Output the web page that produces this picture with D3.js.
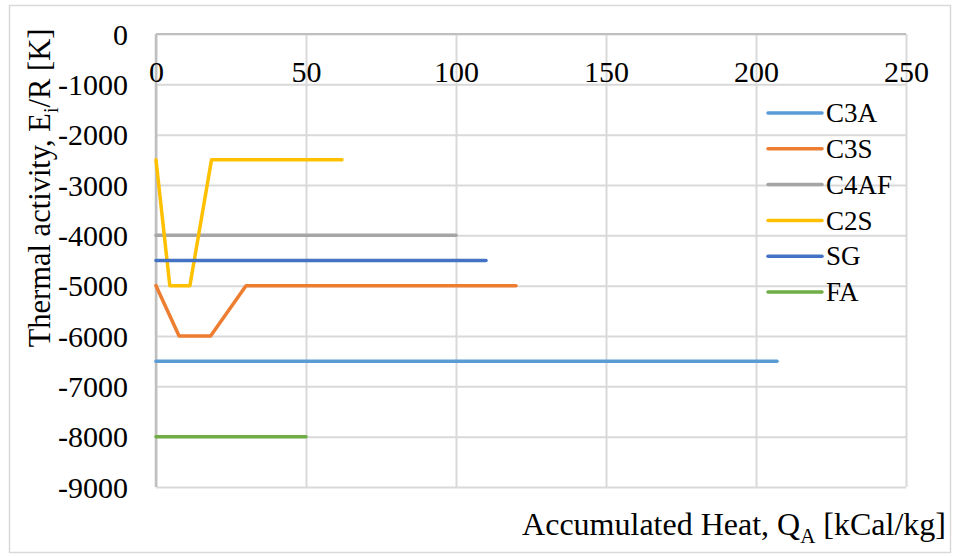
<!DOCTYPE html>
<meta charset="utf-8">
<style>
body { margin: 0; background: #fff; }
svg { display: block; }
</style>
<body>
<div id="chart1"><svg></svg></div>
<script src="https://cdn.jsdelivr.net/npm/d3@7"></script>
<script>

var seriesNames = ["C3A", "C3S", "C4AF", "C2S", "SG", "FA"];
var seriesColors = ["#5B9BD5", "#ED7D31", "#A5A5A5", "#FFC000", "#4472C4", "#70AD47"];

// accumulated heat (x) and thermal activity (y) per series
var c3aX = [0, 207],   c3aY = [-6500, -6500];
var c3sX = [0, 7.7, 18.2, 30, 120], c3sY = [-5000, -6000, -6000, -5000, -5000];
var c4afX = [0, 100],  c4afY = [-4000, -4000];
var c2sX = [0, 4.6, 11.3, 18.5, 62], c2sY = [-2500, -5000, -5000, -2500, -2500];
var sgX = [0, 110],    sgY = [-4500, -4500];
var faX = [0, 50],     faY = [-8000, -8000];

var xTicks = [0, 50, 100, 150, 200, 250];
var yTicks = [0, -1000, -2000, -3000, -4000, -5000, -6000, -7000, -8000, -9000];

var seriesX = [c3aX, c3sX, c4afX, c2sX, sgX, faX];
var seriesY = [c3aY, c3sY, c4afY, c2sY, sgY, faY];
var data = seriesNames.map(function(name, i) {
  return {
    key: name,
    color: seriesColors[i],
    values: seriesX[i].map(function(x, j) { return { x: x, y: seriesY[i][j] }; })
  };
});

var FONT = "Liberation Serif";
var width = 955, height = 556;
var plot = { left: 156, right: 906, top: 34, bottom: 487 };

var svg = d3.select('#chart1 svg')
    .attr("width", width)
    .attr("height", height)
    .attr("font-family", FONT);

// chart border
svg.append("rect")
    .attr("x", 9.5).attr("y", 5.5)
    .attr("width", 941).attr("height", 547)
    .attr("fill", "#fff")
    .attr("stroke", "#d9d9d9")
    .attr("stroke-width", 1.5);

var x = d3.scaleLinear().domain([0, 250]).range([plot.left, plot.right]);
var y = d3.scaleLinear().domain([-9000, 0]).range([plot.bottom, plot.top]);

// gridlines
svg.append("g")
    .attr("transform", "translate(0," + plot.bottom + ")")
    .call(d3.axisTop(x).tickValues(xTicks).tickSize(plot.bottom - plot.top).tickFormat(""))
    .call(function(g) {
      g.select(".domain").remove();
      g.selectAll("line").attr("stroke", "#d9d9d9").attr("stroke-width", 2);
    });

svg.append("g")
    .attr("transform", "translate(" + plot.right + ",0)")
    .call(d3.axisLeft(y).tickValues(yTicks).tickSize(plot.right - plot.left).tickFormat(""))
    .call(function(g) {
      g.select(".domain").remove();
      g.selectAll("line").attr("stroke", "#d9d9d9").attr("stroke-width", 2);
    });

// axis lines (x axis crosses at y = 0, at the top)
svg.append("line")
    .attr("x1", x(0)).attr("x2", x(250))
    .attr("y1", y(0)).attr("y2", y(0))
    .attr("stroke", "#bfbfbf").attr("stroke-width", 2);
svg.append("line")
    .attr("x1", x(0)).attr("x2", x(0))
    .attr("y1", y(0)).attr("y2", y(-9000))
    .attr("stroke", "#bfbfbf").attr("stroke-width", 2.5);

// tick labels, plain hyphen minus like the original
var plain = function(d) { return String(d); };

svg.append("g")
    .attr("transform", "translate(0," + y(0) + ")")
    .call(d3.axisBottom(x).tickValues(xTicks).tickSize(0).tickPadding(0).tickFormat(plain))
    .call(function(g) {
      g.select(".domain").remove();
      g.attr("font-family", FONT).attr("font-size", 30);
      g.selectAll("text").attr("y", 48).attr("dy", null).attr("fill", "#000");
    });

svg.append("g")
    .attr("transform", "translate(" + x(0) + ",0)")
    .call(d3.axisLeft(y).tickValues(yTicks).tickSize(0).tickPadding(0).tickFormat(plain))
    .call(function(g) {
      g.select(".domain").remove();
      g.attr("font-family", FONT).attr("font-size", 30);
      g.selectAll("text").attr("x", -28).attr("dy", "0.34em").attr("fill", "#000");
    });

// series lines
var line = d3.line()
    .x(function(d) { return x(d.x); })
    .y(function(d) { return y(d.y); });

svg.append("g").selectAll("path")
    .data(data)
  .enter().append("path")
    .attr("d", function(d) { return line(d.values); })
    .attr("fill", "none")
    .attr("stroke", function(d) { return d.color; })
    .attr("stroke-width", 3.5)
    .attr("stroke-linejoin", "round")
    .attr("stroke-linecap", "round");

// legend
var legend = svg.append("g").selectAll("g")
    .data(data)
  .enter().append("g")
    .attr("transform", function(d, i) { return "translate(768," + (113 + i * 35.8) + ")"; });

legend.append("line")
    .attr("x1", 0).attr("x2", 54)
    .attr("stroke", function(d) { return d.color; })
    .attr("stroke-width", 3.5)
    .attr("stroke-linecap", "round");

legend.append("text")
    .attr("x", 58)
    .attr("dy", "0.34em")
    .attr("font-size", 27)
    .text(function(d) { return d.key; });

// axis titles
var xTitle = svg.append("text")
    .attr("text-anchor", "end")
    .attr("x", 946)
    .attr("y", 535)
    .attr("font-size", 32);
xTitle.append("tspan").text("Accumulated Heat, Q");
xTitle.append("tspan").attr("dy", 8).attr("font-size", 21).text("A");
xTitle.append("tspan").attr("dy", -8).text(" [kCal/kg]");

var yTitle = svg.append("text")
    .attr("text-anchor", "middle")
    .attr("transform", "translate(50,188) rotate(-90)")
    .attr("font-size", 30.5);
yTitle.append("tspan").text("Thermal activity, E");
yTitle.append("tspan").attr("dy", 8).attr("font-size", 20).text("i");
yTitle.append("tspan").attr("dy", -8).text("/R [K]");

</script>
</body>
